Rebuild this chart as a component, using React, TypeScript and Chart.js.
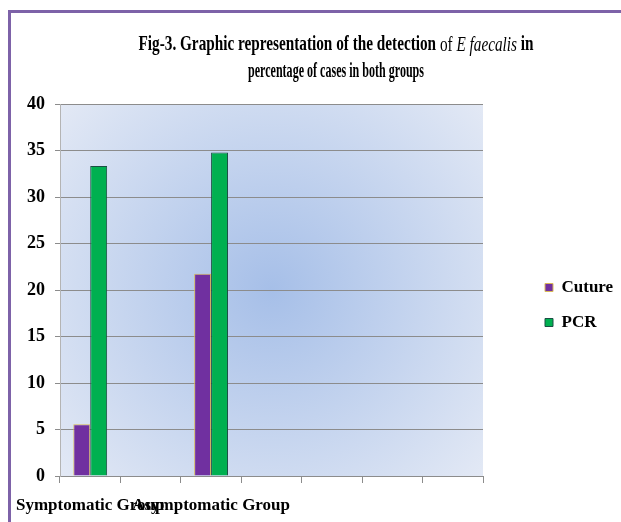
import React, { useEffect, useRef } from "react";
import { Chart, registerables } from "chart.js";

Chart.register(...registerables);

// ---- data ----
const categories = ["Symptomatic Group", "", "Asymptomatic Group", "", "", "", ""];
const cultureValues = [5.56, null, 21.74, null, null, null, null];
const pcrValues = [33.33, null, 34.78, null, null, null, null];
const seriesNames = ["Cuture", "PCR"];
const yMin = 0;
const yMax = 40;
const yStep = 5;

const titleLine1 = [
  { text: "Fig-3. Graphic representation of the detection ", style: "bold" },
  { text: "of ", style: "normal" },
  { text: "E faecalis", style: "italic" },
  { text: " in", style: "bold" },
];
const titleLine2 = [{ text: "percentage of cases in both groups", style: "bold" }];

// ---- styles ----
const FONT = "'Liberation Serif', 'Times New Roman', serif";
const W = 621;
const H = 522;

const backgroundPlugin = {
  id: "plotBackground",
  beforeDraw(chart: any) {
    const { ctx, chartArea } = chart;
    if (!chartArea) return;
    const { left, top, right, bottom } = chartArea;
    const cx = (left + right) / 2;
    const cy = (top + bottom) / 2;
    const r = Math.hypot(right - left, bottom - top) / 2;
    const g = ctx.createRadialGradient(cx, cy, 0, cx, cy, r);
    g.addColorStop(0, "#a6bfe8");
    g.addColorStop(1, "#e3e9f5");
    ctx.save();
    ctx.fillStyle = g;
    ctx.fillRect(left, top, right - left, bottom - top);
    ctx.restore();
  },
};

const titlePlugin = {
  id: "mixedTitle",
  afterDraw(chart: any) {
    const ctx = chart.ctx;
    const size = 21;
    const cx = 336;
    const lines = [
      { segs: titleLine1, y: 45, width: 395 },
      { segs: titleLine2, y: 72, width: 176 },
    ];
    ctx.save();
    ctx.fillStyle = "#000";
    ctx.textBaseline = "middle";
    ctx.textAlign = "left";
    for (const line of lines) {
      let total = 0;
      const widths: number[] = [];
      for (const s of line.segs) {
        ctx.font = `${s.style} ${size}px ${FONT}`;
        const w = ctx.measureText(s.text).width;
        widths.push(w);
        total += w;
      }
      const sx = line.width / total;
      ctx.save();
      ctx.translate(cx - line.width / 2, line.y);
      ctx.scale(sx, 1);
      let x = 0;
      line.segs.forEach((s: any, i: number) => {
        ctx.font = `${s.style} ${size}px ${FONT}`;
        ctx.fillText(s.text, x, 0);
        x += widths[i];
      });
      ctx.restore();
    }
    ctx.restore();
  },
};

const LEGEND_WIDTH = 138;
const LEGEND_ITEM_X = 545;
const LEGEND_DY = -8;

const legendPlacePlugin = {
  id: "legendPlace",
  beforeLayout(chart: any) {
    const lg = chart.legend;
    if (lg && !lg.__patched) {
      const orig = lg.fit.bind(lg);
      lg.fit = function () {
        orig();
        this.width = LEGEND_WIDTH;
      };
      lg.__patched = true;
    }
  },
  afterLayout(chart: any) {
    const lg = chart.legend;
    if (!lg) return;
    const pad = lg.options.labels.padding;
    lg.left = LEGEND_ITEM_X - pad;
    lg.right = lg.left + lg.width;
    lg.top += LEGEND_DY;
    lg.bottom += LEGEND_DY;
  },
};

export default function App() {
  const ref = useRef<HTMLCanvasElement | null>(null);

  useEffect(() => {
    if (!ref.current) return;
    const chart = new Chart(ref.current, {
      type: "bar",
      data: {
        labels: categories,
        datasets: [
          {
            label: seriesNames[0],
            data: cultureValues,
            backgroundColor: "#7030a0",
            borderColor: "#d8b858",
            borderWidth: 1,
          },
          {
            label: seriesNames[1],
            data: pcrValues,
            backgroundColor: "#00b050",
            borderColor: "#1b4f44",
            borderWidth: 1,
          },
        ],
      },
      options: {
        responsive: false,
        animation: false,
        devicePixelRatio: 1,
        layout: { padding: { top: 104, left: 0, right: 0, bottom: 0 } },
        datasets: {
          bar: { categoryPercentage: 0.56, barPercentage: 1.0 },
        },
        plugins: {
          title: { display: false },
          tooltip: { enabled: false },
          legend: {
            display: true,
            position: "right",
            labels: {
              boxWidth: 8,
              boxHeight: 8,
              padding: 18,
              color: "#000",
              font: { family: FONT, size: 17, weight: "bold" },
            },
          },
        },
        scales: {
          x: {
            type: "category",
            offset: true,
            grid: {
              offset: true,
              drawOnChartArea: false,
              drawTicks: true,
              tickLength: 7,
              color: "#8c8c8c",
            },
            border: { display: true, color: "#8c8c8c" },
            ticks: {
              autoSkip: false,
              maxRotation: 0,
              minRotation: 0,
              padding: 12,
              color: "#000",
              font: { family: FONT, size: 17, weight: "bold" },
            },
            afterFit(axis: any) {
              axis.height = 46;
              axis.paddingLeft = 0;
              axis.paddingRight = 0;
            },
          },
          y: {
            min: yMin,
            max: yMax,
            ticks: {
              stepSize: yStep,
              padding: 10,
              color: "#000",
              font: { family: FONT, size: 18, weight: "bold" },
            },
            grid: {
              color: "#8c8c8c",
              drawTicks: true,
              tickLength: 5,
            },
            border: { display: true, color: "#b4b4b4" },
            afterFit(axis: any) {
              axis.width = 60;
              axis.paddingTop = 0;
              axis.paddingBottom = 0;
            },
          },
        },
      },
      plugins: [backgroundPlugin, titlePlugin, legendPlacePlugin],
    } as any);
    return () => chart.destroy();
  }, []);

  return (
    <div style={{ position: "absolute", left: 0, top: 0, width: W, height: H, background: "#fff" }}>
      <canvas
        ref={ref}
        width={W}
        height={H}
        style={{ position: "absolute", left: 0, top: 0, display: "block" }}
      />
      <div
        style={{
          position: "absolute",
          left: 8,
          top: 10,
          width: W - 8,
          height: H - 10,
          borderTop: "3px solid #7d62a8",
          borderLeft: "3px solid #7d62a8",
          boxSizing: "border-box",
          pointerEvents: "none",
        }}
      />
    </div>
  );
}
